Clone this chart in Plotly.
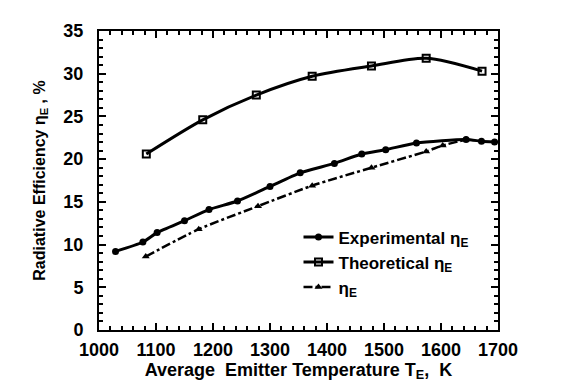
import plotly.graph_objects as go

# Theoretical (top curve, open squares)
theo_T = [1083, 1182, 1276, 1374, 1478, 1574, 1672]
theo_eta = [20.6, 24.6, 27.5, 29.7, 30.9, 31.8, 30.3]

# Experimental (middle curve, filled circles)
exp_T = [1029, 1077, 1102, 1150, 1193, 1243, 1300, 1353, 1413, 1461, 1503, 1557, 1644, 1671, 1694]
exp_eta = [9.2, 10.3, 11.4, 12.8, 14.1, 15.1, 16.8, 18.4, 19.5, 20.6, 21.1, 21.9, 22.3, 22.1, 22.0]

# Third series (dashed)
third_T = [1082, 1175, 1279, 1374, 1478, 1574, 1603, 1644]
third_eta = [8.6, 11.8, 14.5, 16.9, 19.0, 20.9, 21.6, 22.3]

FONT = "Liberation Sans, Arial, sans-serif"

fig = go.Figure()
fig.add_trace(go.Scatter(
    x=exp_T, y=exp_eta, mode="lines+markers", name="Experimental η<sub>E</sub>",
    line=dict(color="black", width=3, shape="spline", smoothing=0.6),
    marker=dict(symbol="circle", size=7, color="black"),
))
fig.add_trace(go.Scatter(
    x=theo_T, y=theo_eta, mode="lines+markers", name="Theoretical η<sub>E</sub>",
    line=dict(color="black", width=3, shape="spline", smoothing=0.8),
    marker=dict(symbol="square-open", size=7, color="black", line=dict(width=2)),
))
fig.add_trace(go.Scatter(
    x=third_T, y=third_eta, mode="lines+markers", name="η<sub>E</sub>",
    line=dict(color="black", width=2.5, dash="dashdot", shape="spline", smoothing=0.6),
    marker=dict(symbol="triangle-up", size=7, color="black"),
))

axis_common = dict(
    showline=True, linecolor="black", linewidth=2, mirror="allticks",
    ticks="inside", ticklen=7, tickwidth=2, tickcolor="black",
    showgrid=False, zeroline=False,
    tickfont=dict(family=FONT, size=18, color="black", weight="bold"),
)

fig.update_xaxes(
    range=[1000, 1700], dtick=100, tick0=1000, ticklabelstandoff=2,
    minor=dict(dtick=20, ticks="inside", ticklen=4, tickwidth=1.5, tickcolor="black"),
    title=dict(text="Average  Emitter Temperature T<sub>E</sub>,  K",
               font=dict(family=FONT, size=18, color="black", weight="bold"), standoff=4),
    **axis_common,
)
fig.update_yaxes(
    range=[0, 35], dtick=5, tick0=0, ticklabelstandoff=10,
    minor=dict(dtick=1, ticks="inside", ticklen=4, tickwidth=1.5, tickcolor="black"),
    title=dict(text="Radiative Efficiency η<sub>E</sub> , %",
               font=dict(family=FONT, size=16, color="black", weight="bold"), standoff=14),
    **axis_common,
)

fig.update_layout(
    width=566, height=390,
    margin=dict(l=91, r=76, t=23, b=68),
    paper_bgcolor="white", plot_bgcolor="white",
    showlegend=True,
    legend=dict(
        x=0.50, y=0.37, xanchor="left", yanchor="top",
        bgcolor="rgba(0,0,0,0)", borderwidth=0,
        font=dict(family=FONT, size=17, color="black", weight="bold"),
        itemwidth=30, tracegroupgap=0,
    ),
)

fig.write_html("out.html")
